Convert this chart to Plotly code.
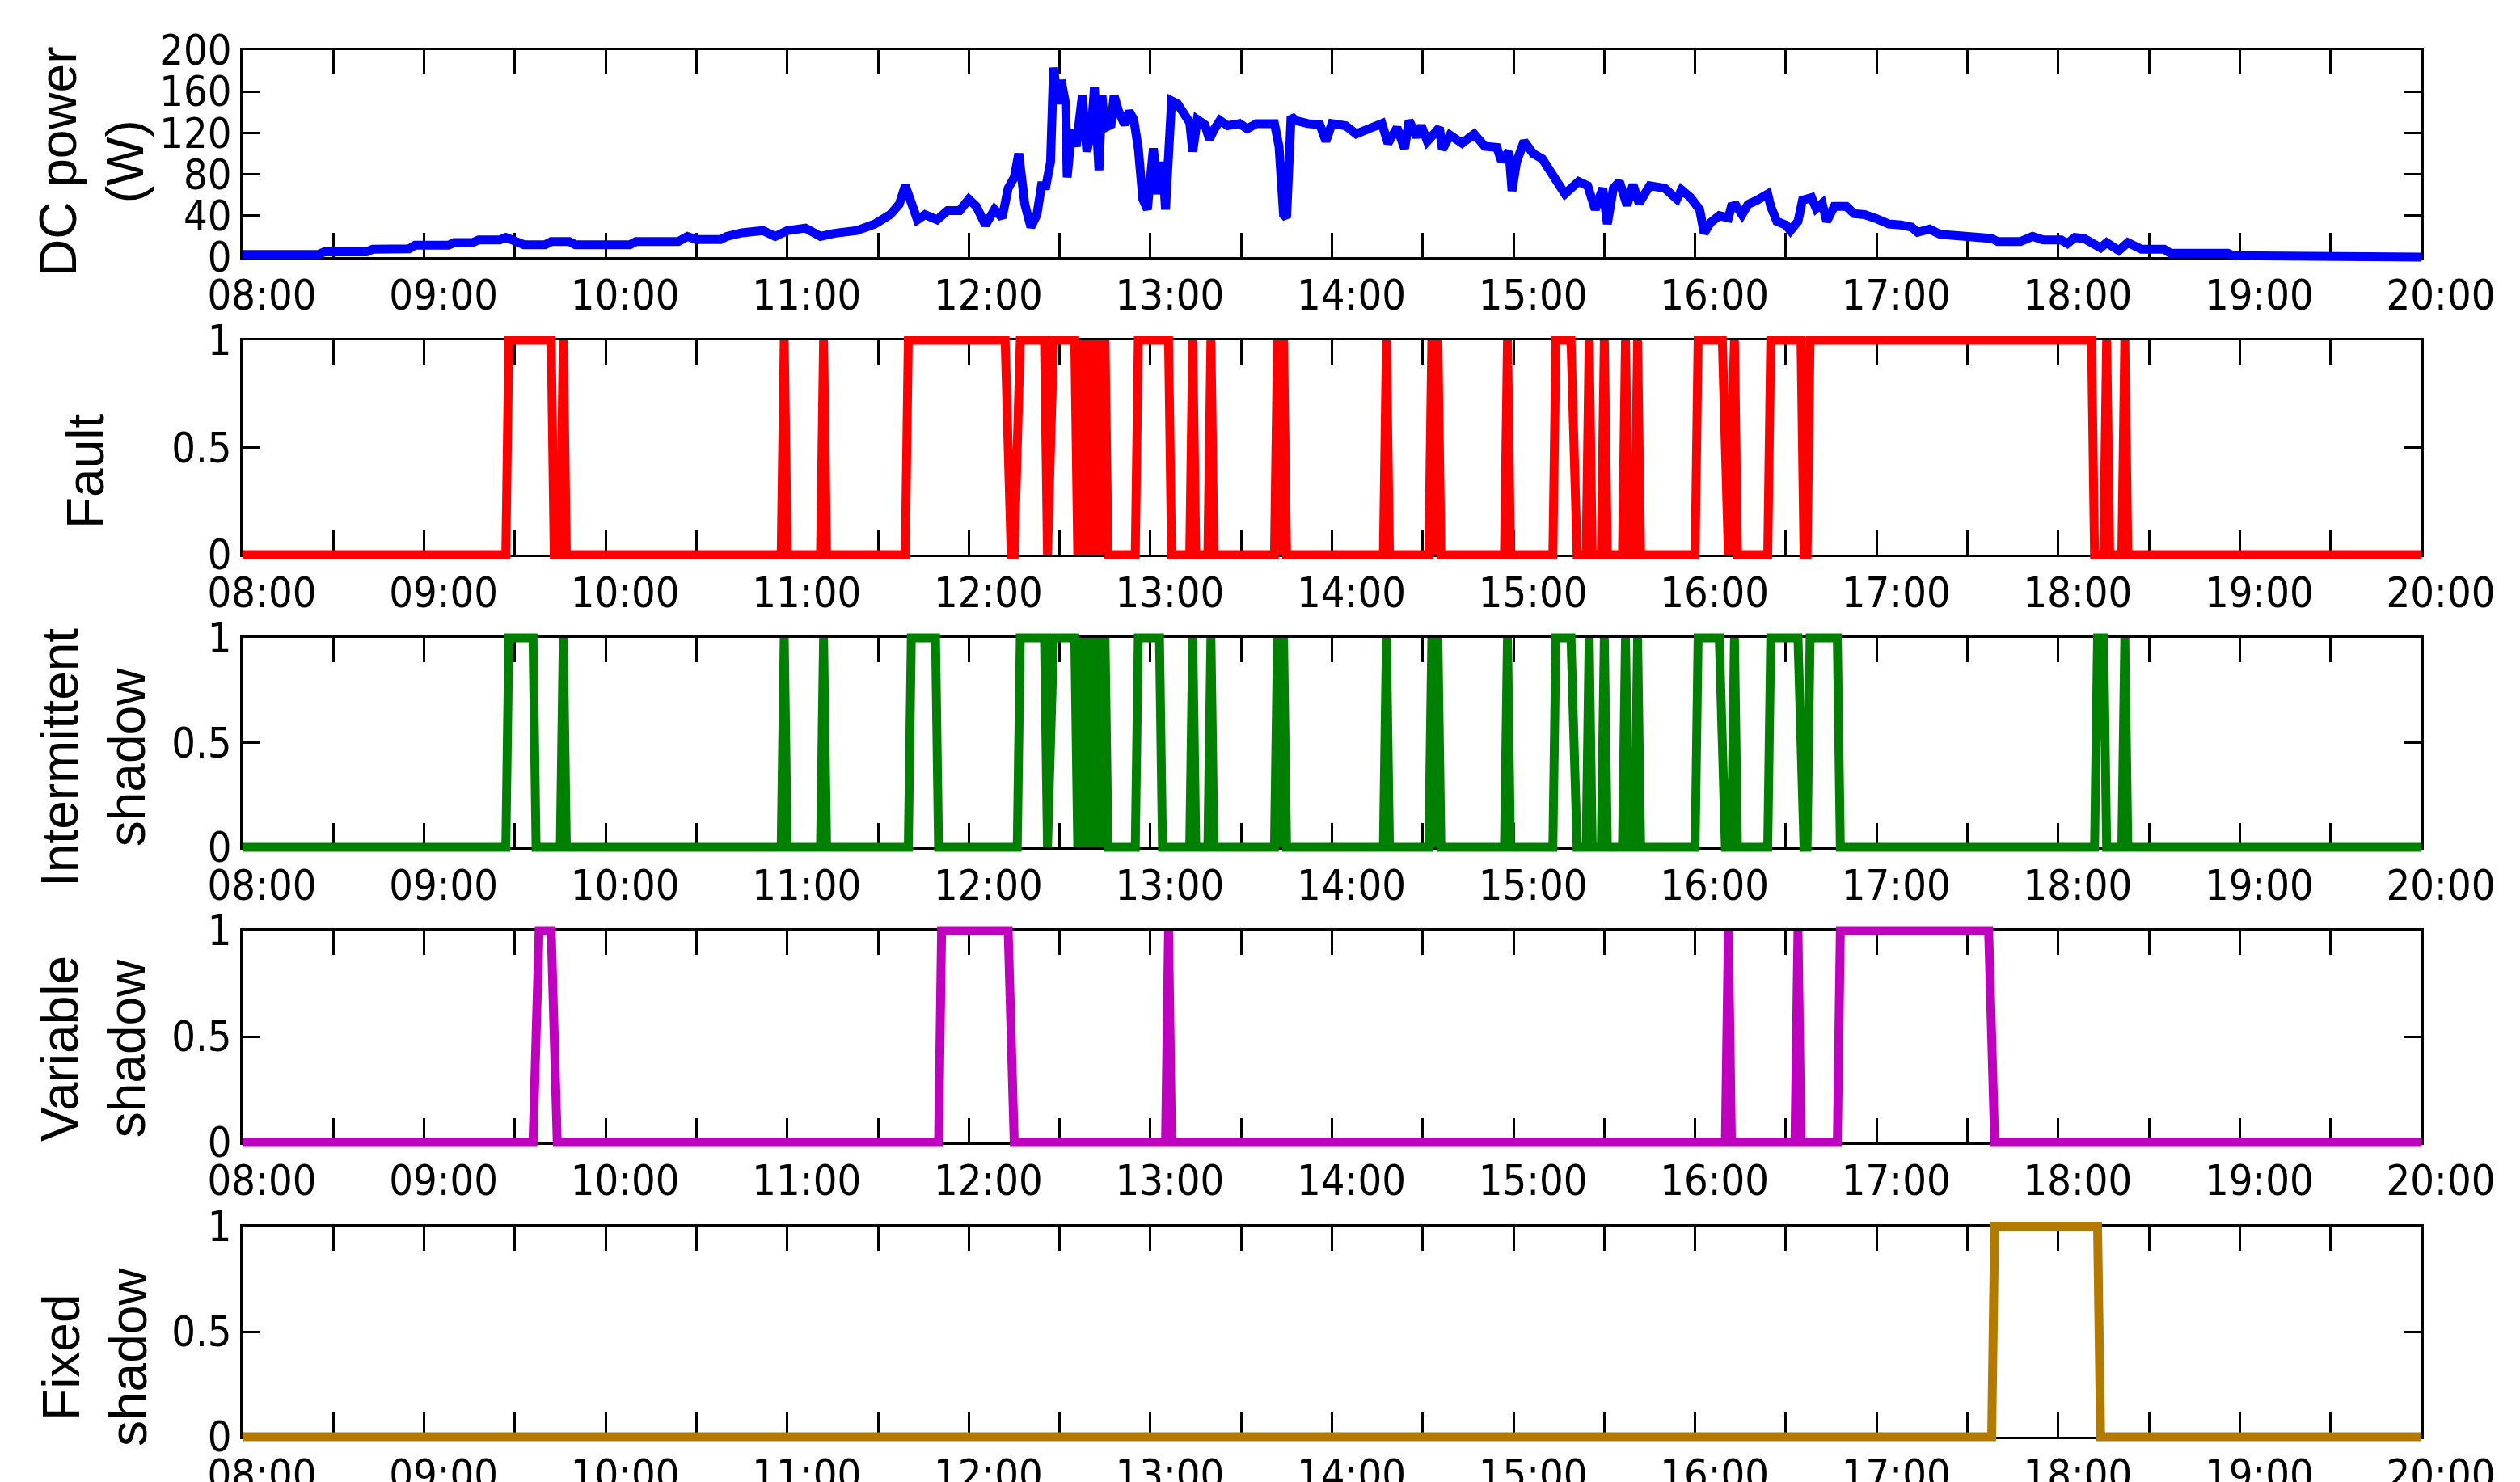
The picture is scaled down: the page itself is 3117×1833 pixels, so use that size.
import plotly.graph_objects as go

DAY = "2021-06-01 "

# DC power (W)
dc_time = ["08:00", "08:25", "08:27", "08:41", "08:43", "08:55", "08:57", "09:08", "09:10", "09:16",
           "09:18", "09:25", "09:27", "09:30", "09:33", "09:40", "09:42", "09:48", "09:50", "10:08",
           "10:10", "10:24", "10:27", "10:30", "10:38", "10:40", "10:45", "10:52", "10:56", "11:00",
           "11:06", "11:11", "11:15:30", "11:23", "11:29", "11:34", "11:37", "11:39", "11:41", "11:43",
           "11:45:30", "11:49:30", "11:53", "11:57", "12:00", "12:02:30", "12:05:30", "12:08:30", "12:11", "12:13",
           "12:15", "12:16:30", "12:18:30", "12:20:30", "12:22:30", "12:24", "12:25:30", "12:27", "12:28", "12:29:30",
           "12:30:30", "12:32", "12:32:30", "12:34", "12:35:30", "12:37:30", "12:39", "12:40:30", "12:41:30", "12:43",
           "12:44", "12:45", "12:47", "12:48", "12:49:30", "12:51:30", "12:53", "12:54:30", "12:56", "12:57:30",
           "12:59", "13:01", "13:02:30", "13:04", "13:05", "13:07", "13:09", "13:11", "13:13", "13:14",
           "13:15:30", "13:18", "13:19:30", "13:21", "13:23", "13:25:30", "13:29:30", "13:32", "13:35", "13:41",
           "13:42:30", "13:44", "13:45", "13:46:30", "13:48", "13:52", "13:56", "13:58", "14:00", "14:04:30",
           "14:08", "14:13", "14:16:30", "14:18:30", "14:21:30", "14:24", "14:25:30", "14:28", "14:29:30", "14:31:30",
           "14:35:30", "14:36:30", "14:39", "14:43", "14:47", "14:50:30", "14:54:30", "14:56", "14:58:30", "14:59:30",
           "15:01", "15:03:30", "15:06:30", "15:09:30", "15:13", "15:17", "15:21:30", "15:24:30", "15:27", "15:29:30",
           "15:31", "15:33", "15:35", "15:37:30", "15:39:30", "15:41:30", "15:45", "15:50", "15:54", "15:55:30",
           "15:58:30", "16:01:30", "16:03", "16:05", "16:08", "16:11", "16:12", "16:13:30", "16:15:30", "16:17:30",
           "16:20:30", "16:22", "16:24", "16:25", "16:27", "16:30", "16:31:30", "16:34", "16:35:30", "16:38:30",
           "16:40", "16:42", "16:43:30", "16:46", "16:50", "16:52:30", "16:56", "17:00", "17:04", "17:08",
           "17:11:30", "17:13:30", "17:17:30", "17:21", "17:28:30", "17:32:30", "17:38", "17:40", "17:47:30", "17:51:30",
           "17:55", "18:01", "18:03", "18:05:30", "18:08:30", "18:14", "18:16", "18:20", "18:23", "18:27:30",
           "18:35", "18:37", "18:56", "18:58", "19:54", "19:57", "20:00"]
dc_power = [2.5, 2.5, 5, 5, 7.7, 8, 11.5, 11.5, 14, 14,
            16.6, 16.6, 19, 16, 12, 12, 15, 15, 12, 12,
            15, 15, 20, 17, 17, 20, 23.5, 25.6, 20, 25.6,
            28, 20, 23, 25.6, 32, 41, 51, 69, 51, 36,
            41, 36, 45, 45, 56, 49, 31, 46, 38, 66.5,
            77, 100, 51, 29, 41, 69, 69, 92, 183, 148,
            171, 148, 77, 123, 107, 156, 102, 123, 164, 84,
            156, 125, 128, 156, 141, 128, 141, 133, 105, 56,
            46, 105, 61, 92, 46, 151, 148, 138, 130, 102,
            133, 128, 114, 123, 132, 127, 129, 124, 129, 129,
            107, 41, 38, 136, 132, 129, 128, 112, 129, 127,
            119, 125, 129, 110, 125, 105, 132, 116, 127, 112,
            125, 104, 118, 110, 119, 107, 106, 93, 102, 64,
            92, 112, 100, 95, 79, 61, 73, 69, 46, 66.5,
            32, 66.5, 73, 50, 70, 52, 69, 66.5, 56, 65,
            57.5, 46, 23, 33, 40, 38, 49, 50, 41, 51,
            55, 57.5, 61, 49, 34.5, 31, 25.6, 34.5, 55, 57.5,
            47, 52, 34.5, 49, 49, 42, 41, 37, 32, 31,
            29, 24, 27, 22, 20, 18, 18, 15, 15, 20,
            16.6, 16.6, 13, 19, 18, 9, 14, 6.4, 14, 7.7,
            7.7, 3.8, 3.8, 1.3, 1.3, 0, 0]

fault_time = ["08:00", "09:27", "09:28", "09:42", "09:43", "09:45", "09:46", "09:47", "10:58", "10:59",
              "11:00", "11:11", "11:12", "11:13", "11:39", "11:40", "12:12", "12:14", "12:15", "12:17",
              "12:25", "12:26", "12:28", "12:35", "12:36", "12:37", "12:38", "12:39", "12:40", "12:41",
              "12:42", "12:43", "12:44", "12:45", "12:46", "12:55", "12:56", "13:06", "13:07", "13:13",
              "13:14", "13:15", "13:19", "13:20", "13:21", "13:41", "13:42", "13:43", "13:44", "13:45",
              "14:17", "14:18", "14:19", "14:32", "14:33", "14:34", "14:35", "14:36", "14:57", "14:58",
              "14:59", "15:13", "15:14", "15:19", "15:21", "15:24", "15:25", "15:26", "15:29", "15:30",
              "15:31", "15:36", "15:37", "15:38", "15:40", "15:41", "15:42", "16:00", "16:01", "16:09",
              "16:11", "16:13", "16:14", "16:24", "16:25", "16:35", "16:36", "16:37", "16:38", "18:11",
              "18:12", "18:15", "18:16", "18:17", "18:21", "18:22", "18:23", "20:00"]
fault_state = [0, 0, 1, 1, 0, 0, 1, 0, 0, 1,
               0, 0, 1, 0, 0, 1, 1, 0, 0, 1,
               1, 0, 1, 1, 0, 1, 0, 1, 0, 1,
               0, 1, 0, 1, 0, 0, 1, 1, 0, 0,
               1, 0, 0, 1, 0, 0, 1, 0, 1, 0,
               0, 1, 0, 0, 1, 0, 1, 0, 0, 1,
               0, 0, 1, 1, 0, 0, 1, 0, 0, 1,
               0, 0, 1, 0, 0, 1, 0, 0, 1, 1,
               0, 1, 0, 0, 1, 1, 0, 0, 1, 1,
               0, 0, 1, 0, 0, 1, 0, 0]

intermittent_time = ["08:00", "09:27", "09:28", "09:36", "09:37", "09:45", "09:46", "09:47", "10:58", "10:59",
                     "11:00", "11:11", "11:12", "11:13", "11:40", "11:41", "11:49", "11:50", "12:16", "12:17",
                     "12:25", "12:26", "12:28", "12:35", "12:36", "12:37", "12:38", "12:39", "12:40", "12:41",
                     "12:42", "12:43", "12:44", "12:45", "12:46", "12:55", "12:56", "13:03", "13:04", "13:13",
                     "13:14", "13:15", "13:19", "13:20", "13:21", "13:41", "13:42", "13:43", "13:44", "13:45",
                     "14:17", "14:18", "14:19", "14:32", "14:33", "14:34", "14:35", "14:36", "14:57", "14:58",
                     "14:59", "15:13", "15:14", "15:19", "15:21", "15:24", "15:25", "15:26", "15:29", "15:30",
                     "15:31", "15:36", "15:37", "15:38", "15:40", "15:41", "15:42", "16:00", "16:01", "16:08",
                     "16:10", "16:12", "16:13", "16:14", "16:24", "16:25", "16:34", "16:36", "16:37", "16:38",
                     "16:47", "16:48", "18:12", "18:13", "18:15", "18:16", "18:21", "18:22", "18:23", "20:00"]
intermittent_state = [0, 0, 1, 1, 0, 0, 1, 0, 0, 1,
                      0, 0, 1, 0, 0, 1, 1, 0, 0, 1,
                      1, 0, 1, 1, 0, 1, 0, 1, 0, 1,
                      0, 1, 0, 1, 0, 0, 1, 1, 0, 0,
                      1, 0, 0, 1, 0, 0, 1, 0, 1, 0,
                      0, 1, 0, 0, 1, 0, 1, 0, 0, 1,
                      0, 0, 1, 1, 0, 0, 1, 0, 0, 1,
                      0, 0, 1, 0, 0, 1, 0, 0, 1, 1,
                      0, 0, 1, 0, 0, 1, 1, 0, 0, 1,
                      1, 0, 0, 1, 1, 0, 0, 1, 0, 0]

variable_time = ["08:00", "09:36", "09:38", "09:42", "09:44", "11:50", "11:51", "12:13", "12:15", "13:05",
                 "13:06", "13:07", "16:10", "16:11", "16:12", "16:33", "16:34", "16:35", "16:47", "16:48",
                 "17:37", "17:39", "20:00"]
variable_state = [0, 0, 1, 1, 0, 0, 1, 1, 0, 0,
                  1, 0, 0, 1, 0, 0, 1, 0, 0, 1,
                  1, 0, 0]

fixed_time = ["08:00", "17:38", "17:39", "18:13", "18:14", "20:00"]
fixed_state = [0, 0, 1, 1, 0, 0]

hour_labels = ["08:00", "09:00", "10:00", "11:00", "12:00", "13:00", "14:00",
               "15:00", "16:00", "17:00", "18:00", "19:00", "20:00"]

power_ticks = [0, 40, 80, 120, 160, 200]
state_ticks = [0, 0.5, 1]
state_ticktext = ["0", "0.5", "1"]

tick_vals, tick_text = [], []
for h in hour_labels:
    tick_vals.append(DAY + h)
    tick_text.append(h)
    if h != hour_labels[-1]:
        tick_vals.append(DAY + h[:3] + "30")
        tick_text.append("")

TICK_FONT = dict(family="Liberation Sans Narrow, Arial Narrow, DejaVu Sans Condensed, Liberation Sans",
                 size=52, color="black")
TITLE_FONT = dict(family="Liberation Sans, Arial", size=64, color="black")

# page geometry (the page has an 8px body margin)
OFF = 8
PAD = 9  # lines may spill this many px past the axis box, as in the original
W, H = 3117 - OFF, 1833 - OFF
PLOT_L, PLOT_R, PLOT_T, PLOT_B = 300, 2995, 62, 1777
L, R = PLOT_L - OFF, W - (PLOT_R - OFF)
T, B = PLOT_T - PAD - OFF, H - (PLOT_B + PAD - OFF)
PW, PH = W - L - R, H - T - B
X_RANGE = [DAY + "08:00", DAY + "20:00"]

def py(y):
    return (PLOT_B + PAD - y) / PH

def px_(x):
    return (x - PLOT_L) / PW

panels = [
    # series, colour, title, top px, bottom px, title x px, title y px
    (dc_time, dc_power, "#0000FF", "DC power<br>(W)", 62, 318, 113, 200),
    (fault_time, fault_state, "#FF0000", "Fault", 421, 686, 106, 583),
    (intermittent_time, intermittent_state, "#008000", "Intermittent<br>shadow", 789, 1048, 115, 937),
    (variable_time, variable_state, "#BF00BF", "Variable<br>shadow", 1151, 1413, 115, 1297),
    (fixed_time, fixed_state, "#B27A00", "Fixed<br>shadow", 1517, 1777, 117, 1678),
]

fig = go.Figure()
annotations = []
n = len(panels)

# framed axes (ticks, labels) first, so the data subplots draw over them
for i, (t, v, col, title, top, bot, tx, ty) in enumerate(panels, start=1):
    sfx = "" if i == 1 else str(i)
    if i == 1:
        yt, ytt, yr = power_ticks, [str(p) for p in power_ticks], [0, 200]
    else:
        yt, ytt, yr = state_ticks, state_ticktext, [0, 1]
    fig.layout["xaxis" + sfx] = dict(
        domain=[0, 1], anchor="y" + sfx, type="date", automargin=False, range=X_RANGE,
        tickmode="array", tickvals=tick_vals, ticktext=tick_text,
        ticks="inside", ticklen=30, tickwidth=3, tickcolor="black",
        showline=True, linecolor="black", linewidth=3, mirror="ticks",
        showgrid=False, zeroline=False, tickfont=TICK_FONT,
        ticklabelshift=24, ticklabelstandoff=0)
    fig.layout["yaxis" + sfx] = dict(
        domain=[py(bot), py(top)], anchor="x" + sfx, range=yr, automargin=False,
        tickmode="array", tickvals=yt, ticktext=ytt,
        ticks="inside", ticklen=22, tickwidth=3, tickcolor="black",
        showline=True, linecolor="black", linewidth=3, mirror="ticks",
        showgrid=False, zeroline=False, tickfont=TICK_FONT)
    fig.add_trace(go.Scatter(x=[], y=[], mode="lines", showlegend=False, hoverinfo="skip",
                             xaxis="x" + sfx, yaxis="y" + sfx))
    annotations.append(dict(text=title, xref="paper", yref="paper",
                            x=px_(tx), y=py(ty),
                            xanchor="center", yanchor="middle", textangle=-90,
                            showarrow=False, font=TITLE_FONT))

# hidden axes with the same scale but a taller clip area, holding the data lines
for i, (t, v, col, title, top, bot, tx, ty) in enumerate(panels, start=1):
    dsfx = str(i + n)
    yr = [0, 200] if i == 1 else [0, 1]
    d = PAD * (yr[1] - yr[0]) / (bot - top)
    fig.layout["xaxis" + dsfx] = dict(
        domain=[0, 1], anchor="y" + dsfx, type="date", range=X_RANGE,
        visible=False, automargin=False, showgrid=False, zeroline=False)
    fig.layout["yaxis" + dsfx] = dict(
        domain=[py(bot + PAD), py(top - PAD)], anchor="x" + dsfx,
        range=[yr[0] - d, yr[1] + d], visible=False, automargin=False,
        showgrid=False, zeroline=False)
    fig.add_trace(go.Scatter(x=[DAY + s for s in t], y=v, mode="lines",
                             line=dict(color=col, width=11),
                             showlegend=False, xaxis="x" + dsfx, yaxis="y" + dsfx))

fig.update_layout(width=W, height=H, margin=dict(l=L, r=R, t=T, b=B),
                  plot_bgcolor="rgba(0,0,0,0)", paper_bgcolor="white",
                  annotations=annotations)

fig.write_html("out.html")
